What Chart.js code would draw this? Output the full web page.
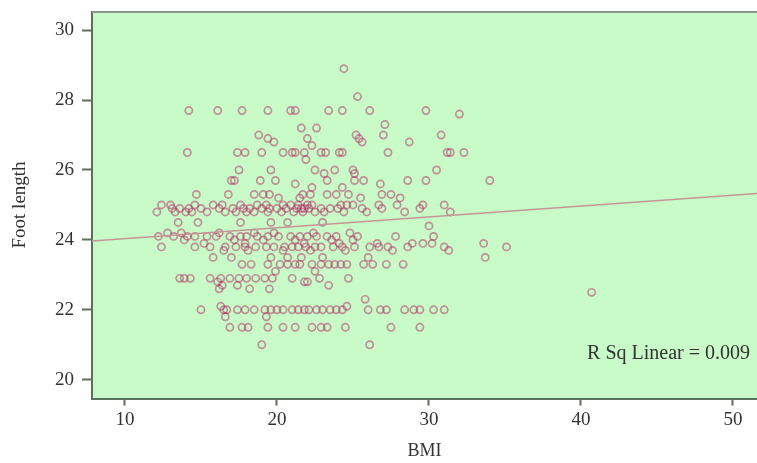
<!DOCTYPE html>
<html>
<head>
<meta charset="utf-8">
<script src="https://cdn.jsdelivr.net/npm/chart.js@4/dist/chart.umd.min.js"></script>
<style>
  html, body { margin: 0; padding: 0; background: #fff; }
  #wrap { width: 757px; height: 463px; }
</style>
</head>
<body>
<div id="wrap"><canvas id="canvas" width="757" height="463"></canvas></div>
<script>
// foot length levels and the BMI values seen on each level
let footLevels = [28.9, 28.1, 27.7, 27.6, 27.3, 27.2, 27.0, 26.9, 26.8, 26.7, 26.5, 26.3, 26.0, 25.9, 25.7,
  25.6, 25.5, 25.3, 25.2, 25.0, 24.9, 24.8, 24.5, 24.4, 24.2, 24.1, 24.0, 23.9, 23.8, 23.7, 23.5, 23.3,
  23.1, 22.9, 22.8, 22.7, 22.6, 22.5, 22.3, 22.1, 22.0, 21.8, 21.5, 21.0];
let bmiByLevel = [
  [24.4],
  [25.3],
  [14.2, 16.1, 17.7, 19.4, 20.9, 21.2, 23.4, 24.3, 26.1, 29.8],
  [32.0],
  [27.1],
  [21.6, 22.6],
  [18.8, 25.2, 27.0, 30.8],
  [19.4, 22.0, 25.4],
  [19.8, 25.6, 28.7],
  [22.3],
  [14.1, 17.4, 17.9, 19.0, 20.4, 21.0, 21.2, 21.8, 22.9, 23.2, 24.1, 24.3, 27.3, 31.2, 31.4, 32.3],
  [21.9],
  [17.5, 19.6, 22.5, 23.8, 25.0, 30.5],
  [23.1, 25.1],
  [17.0, 17.2, 18.9, 19.9, 23.3, 25.7, 25.1, 28.6, 29.8, 34.0],
  [21.2, 26.8],
  [22.3, 24.3],
  [14.7, 16.8, 18.5, 19.1, 19.5, 21.7, 22.2, 23.3, 23.9, 24.7, 26.9, 27.5],
  [20.1, 21.5, 25.5, 28.1],
  [12.4, 13.0, 14.6, 15.8, 16.4, 17.6, 18.7, 19.3, 20.4, 20.9, 21.4, 22.0, 22.3, 24.2, 24.6, 25.0, 26.7, 27.9, 29.6, 31.0],
  [13.1, 13.6, 14.2, 15.0, 16.2, 17.1, 17.8, 18.2, 19.0, 19.5, 20.0, 20.6, 21.3, 21.6, 21.8, 22.1, 22.9, 23.5, 24.0, 25.6, 26.9, 29.4],
  [12.1, 13.3, 14.0, 14.4, 15.4, 16.6, 17.3, 18.0, 18.5, 19.4, 20.3, 21.1, 21.7, 22.5, 23.1, 24.4, 25.9, 28.4, 31.4],
  [13.5, 14.8, 17.6, 19.6, 20.7, 23.0],
  [30.0],
  [12.8, 13.7, 16.2, 18.5, 19.8, 22.4, 24.8],
  [12.2, 13.2, 14.1, 14.6, 15.4, 16.0, 16.9, 17.6, 18.0, 18.7, 19.4, 20.1, 20.9, 21.5, 22.0, 22.6, 23.3, 23.9, 25.3, 27.8, 30.3],
  [13.9, 17.2, 19.1, 21.2, 23.6, 25.0],
  [15.2, 17.9, 21.8, 24.1, 26.6, 28.9, 29.6, 30.2, 33.6],
  [12.4, 14.6, 15.6, 16.6, 17.3, 17.9, 18.6, 19.3, 19.8, 20.5, 21.0, 21.4, 21.9, 22.5, 22.9, 23.7, 24.3, 25.1, 26.1, 26.7, 27.3, 28.6, 31.0, 35.1],
  [16.5, 18.1, 20.4, 22.2, 24.5, 27.6, 31.3],
  [15.8, 17.0, 19.6, 20.7, 21.6, 23.0, 26.0, 33.7],
  [17.7, 18.3, 19.4, 20.2, 20.7, 21.2, 21.5, 22.3, 22.9, 23.4, 23.8, 24.2, 24.6, 25.7, 26.3, 27.2, 28.3],
  [19.9, 22.5],
  [13.6, 13.9, 14.3, 15.6, 16.3, 16.9, 17.5, 18.0, 18.6, 19.2, 19.7, 21.0, 22.8, 24.7],
  [16.1, 21.8, 22.0],
  [16.4, 17.4, 23.4],
  [16.2, 18.2, 19.5],
  [40.7],
  [25.8],
  [16.3, 24.6],
  [15.0, 16.5, 16.7, 17.4, 17.9, 18.5, 19.2, 19.6, 20.0, 20.4, 21.0, 21.4, 21.8, 22.1, 22.6, 23.0, 23.5, 23.9, 24.3, 26.0, 26.8, 27.2, 28.4, 29.0, 29.4, 30.3, 31.0],
  [16.6, 19.3],
  [16.9, 17.7, 18.1, 19.4, 20.4, 21.2, 22.3, 22.9, 23.3, 24.5, 27.5, 29.4],
  [19.0, 26.1]
];

// fitted linear line, end points at the axis limits
let fitX = [7.83, 51.58];
let fitY = [23.97, 25.33];

let xTicks = [10, 20, 30, 40, 50];
let yTicks = [20, 22, 24, 26, 28, 30];
let rSqText = 'R Sq Linear = 0.009';
let yTitle = 'Foot length';

let points = [];
footLevels.forEach((lvl, i) => {
  bmiByLevel[i].forEach(b => points.push({ x: b, y: lvl }));
});
let fitLine = fitX.map((x, i) => ({ x: x, y: fitY[i] }));

let font = "'Liberation Serif', 'DejaVu Serif', serif";
let axisColor = '#5d6f5d';
let textColor = '#333';

// green plot background, top frame, y title and the R Sq note
let plotBackground = {
  id: 'plotBackground',
  beforeDraw(chart) {
    let { ctx, chartArea: a } = chart;
    ctx.save();
    ctx.fillStyle = '#c9fbc8';
    ctx.fillRect(a.left, a.top, a.right - a.left, a.bottom - a.top);
    ctx.restore();
  },
  afterDraw(chart) {
    let { ctx, chartArea: a } = chart;
    ctx.save();
    ctx.strokeStyle = '#8a9a8a';
    ctx.lineWidth = 2;
    ctx.beginPath();
    ctx.moveTo(a.left, a.top);
    ctx.lineTo(chart.width, a.top);
    ctx.stroke();

    ctx.fillStyle = textColor;
    ctx.font = '20px ' + font;
    ctx.textAlign = 'right';
    ctx.textBaseline = 'middle';
    ctx.fillText(rSqText, a.right - 7, chart.scales.y.getPixelForValue(20.75));

    ctx.font = '19px ' + font;
    ctx.translate(20, chart.scales.y.getPixelForValue(25.0));
    ctx.rotate(-Math.PI / 2);
    ctx.textAlign = 'center';
    ctx.fillText(yTitle, 0, 0);
    ctx.restore();
  }
};

let options = {
  type: 'scatter',
  data: {
    datasets: [{
      data: points,
      backgroundColor: 'rgba(0,0,0,0)',
      borderColor: 'rgba(180,40,100,0.5)',
      borderWidth: 1.7,
      pointRadius: 3.6,
      pointHoverRadius: 3.6,
      order: 2
    }, {
      type: 'line',
      data: fitLine,
      borderColor: 'rgb(196,150,150)',
      borderWidth: 1.5,
      pointRadius: 0,
      fill: false,
      order: 1
    }]
  },
  options: {
    responsive: false,
    animation: false,
    layout: { autoPadding: false, padding: { left: 0, right: 0, top: 12, bottom: 1 } },
    plugins: {
      legend: { display: false },
      tooltip: { enabled: false }
    },
    scales: {
      x: {
        type: 'linear',
        min: 7.83,
        max: 51.58,
        afterBuildTicks: s => { s.ticks = xTicks.map(v => ({ value: v })); },
        afterFit: s => { s.paddingLeft = 0; s.paddingRight = 0; },
        grid: { drawOnChartArea: false, tickLength: 7, color: axisColor, tickWidth: 2 },
        border: { color: axisColor, width: 2 },
        ticks: { color: textColor, font: { family: font, size: 19 }, padding: 3, maxRotation: 0 },
        title: { display: true, text: 'BMI', color: textColor, font: { family: font, size: 18 }, padding: { top: 6, bottom: 0 } }
      },
      y: {
        min: 19.46,
        max: 30.52,
        afterBuildTicks: s => { s.ticks = yTicks.map(v => ({ value: v })); },
        afterFit: s => { s.width = 92; s.paddingTop = 0; s.paddingBottom = 0; },
        grid: { drawOnChartArea: false, tickLength: 10, color: axisColor, tickWidth: 2 },
        border: { color: axisColor, width: 2 },
        ticks: { color: textColor, font: { family: font, size: 19 }, padding: 8 }
      }
    }
  },
  plugins: [plotBackground]
};

let chart = new Chart(document.getElementById('canvas'), options);
</script>
</body>
</html>
